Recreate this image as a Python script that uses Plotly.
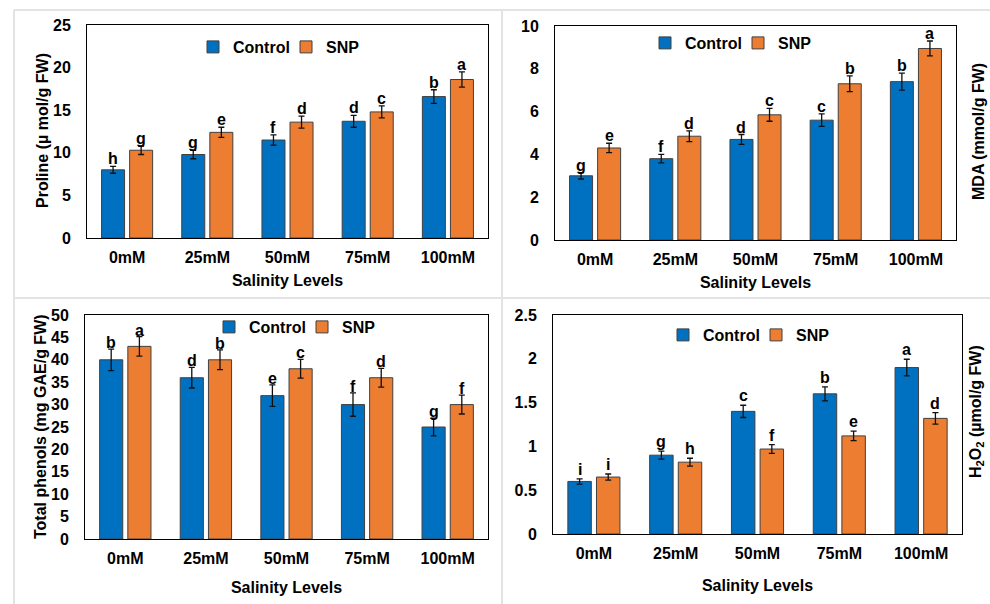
import plotly.graph_objects as go

# ---------------- data ----------------
categories = ["0mM", "25mM", "50mM", "75mM", "100mM"]
series_names = ["Control", "SNP"]

proline_control = [8.0, 9.8, 11.5, 13.7, 16.6]
proline_control_err = [0.4, 0.5, 0.6, 0.7, 0.8]
proline_snp = [10.3, 12.4, 13.6, 14.8, 18.6]
proline_snp_err = [0.5, 0.6, 0.7, 0.7, 0.9]
proline_control_letters = ["h", "g", "f", "d", "b"]
proline_snp_letters = ["g", "e", "d", "c", "a"]

mda_control = [3.0, 3.8, 4.7, 5.6, 7.4]
mda_control_err = [0.15, 0.2, 0.23, 0.29, 0.4]
mda_snp = [4.3, 4.85, 5.85, 7.3, 8.95]
mda_snp_err = [0.22, 0.25, 0.3, 0.37, 0.35]
mda_control_letters = ["g", "f", "d", "c", "b"]
mda_snp_letters = ["e", "d", "c", "b", "a"]

phenols_control = [40, 36, 32, 30, 25]
phenols_control_err = [2.4, 2.3, 2.4, 2.6, 2.0]
phenols_snp = [43, 40, 38, 36, 30]
phenols_snp_err = [2.2, 2.2, 2.1, 2.1, 2.1]
phenols_control_letters = ["b", "d", "e", "f", "g"]
phenols_snp_letters = ["a", "b", "c", "d", "f"]

h2o2_control = [0.60, 0.90, 1.40, 1.60, 1.90]
h2o2_control_err = [0.03, 0.045, 0.07, 0.08, 0.095]
h2o2_snp = [0.65, 0.82, 0.97, 1.12, 1.32]
h2o2_snp_err = [0.035, 0.045, 0.05, 0.055, 0.065]
h2o2_control_letters = ["i", "g", "c", "b", "a"]
h2o2_snp_letters = ["i", "h", "f", "e", "d"]

y_titles = [
    "Proline (µ mol/g FW)",
    "MDA (mmol/g FW)",
    "Total phenols (mg GAE/g FW)",
    "H<sub>2</sub>O<sub>2</sub> (µmol/g FW)",
]
x_title = "Salinity Levels"

# ---------------- style ----------------
W, H = 990, 604
BLUE = "#0070C0"
ORANGE = "#ED7D31"
FONT = "Liberation Sans, Arial, sans-serif"
BARGAP = 0.3
BARGROUPGAP = 0.18


def xd(a, b):
    return [a / W, b / W]


def yd(top, bottom):
    return [1 - bottom / H, 1 - top / H]


panels = [
    dict(ctrl=proline_control, ctrl_e=proline_control_err, snp=proline_snp, snp_e=proline_snp_err,
         ctrl_l=proline_control_letters, snp_l=proline_snp_letters,
         xdom=xd(87, 488), ydom=yd(25, 238), yrange=[0, 25], dtick=5,
         legend_xy=(193, 47), ytitle_px=(42, 131), xstand=9, lshift=-3),
    dict(ctrl=mda_control, ctrl_e=mda_control_err, snp=mda_snp, snp_e=mda_snp_err,
         ctrl_l=mda_control_letters, snp_l=mda_snp_letters,
         xdom=xd(555, 956), ydom=yd(26, 240), yrange=[0, 10], dtick=2,
         legend_xy=(645, 43), ytitle_px=(978, 132), xstand=9, lshift=-3),
    dict(ctrl=phenols_control, ctrl_e=phenols_control_err, snp=phenols_snp, snp_e=phenols_snp_err,
         ctrl_l=phenols_control_letters, snp_l=phenols_snp_letters,
         xdom=xd(85, 488), ydom=yd(315, 539), yrange=[0, 50], dtick=5,
         legend_xy=(209, 327), ytitle_px=(40, 427), xstand=15, lshift=-4),
    dict(ctrl=h2o2_control, ctrl_e=h2o2_control_err, snp=h2o2_snp, snp_e=h2o2_snp_err,
         ctrl_l=h2o2_control_letters, snp_l=h2o2_snp_letters,
         xdom=xd(553, 962), ydom=yd(315, 534), yrange=[0, 2.5], dtick=0.5,
         legend_xy=(663, 335), ytitle_px=(976, 412), xstand=18, lshift=-1),
]

fig = go.Figure()
annotations = []
layout_axes = {}
offset = (1 - BARGAP) / 4

for i, p in enumerate(panels):
    n = "" if i == 0 else str(i + 1)
    xa, ya = "x" + n, "y" + n
    leg = "legend" + n
    for name, vals, errs, color, letters, sgn in [
        ("Control", p["ctrl"], p["ctrl_e"], BLUE, p["ctrl_l"], -1),
        ("SNP", p["snp"], p["snp_e"], ORANGE, p["snp_l"], 1),
    ]:
        fig.add_trace(go.Bar(
            x=categories, y=vals, name=name, xaxis=xa, yaxis=ya, legend=leg,
            marker=dict(color=color, line=dict(color="#404040", width=1)),
            error_y=dict(type="data", array=errs, visible=True, color="#111111", thickness=1.3, width=3),
        ))
        for k, (v, e, lt) in enumerate(zip(vals, errs, letters)):
            annotations.append(dict(
                x=k + sgn * offset, y=v + e, xref=xa, yref=ya, text=lt, showarrow=False,
                yanchor="bottom", xanchor="center", yshift=p["lshift"],
                font=dict(family=FONT, size=16, color="black", weight="bold"),
            ))
    axis_font = dict(family=FONT, size=16, color="black", weight="bold")
    layout_axes["xaxis" + n] = dict(
        domain=p["xdom"], anchor=ya, showline=True, mirror=True, linecolor="black", linewidth=1,
        ticks="", tickfont=axis_font, ticklabelstandoff=5, showgrid=False,
        title=dict(text=x_title, font=axis_font, standoff=p["xstand"]), automargin=False,
    )
    layout_axes["yaxis" + n] = dict(
        domain=p["ydom"], anchor=xa, range=p["yrange"], dtick=p["dtick"], tick0=0,
        showline=True, mirror=True, linecolor="black", linewidth=1, showgrid=False, zeroline=False,
        ticks="", tickfont=axis_font, ticklabelstandoff=12, automargin=False,
    )
    tx, ty = p["ytitle_px"]
    annotations.append(dict(
        x=tx / W, y=1 - ty / H, xref="paper", yref="paper", text=y_titles[i], textangle=-90,
        showarrow=False, xanchor="center", yanchor="middle", font=axis_font,
    ))
    lx, ly = p["legend_xy"]
    layout_axes[leg] = dict(
        orientation="h", x=lx / W, y=1 - ly / H, xanchor="left", yanchor="middle",
        font=dict(family=FONT, size=16, color="black", weight="bold"), bgcolor="rgba(0,0,0,0)",
        borderwidth=0, traceorder="normal", entrywidth=48, entrywidthmode="pixels",
    )

# light grey panel separators
shapes = []
grey = dict(color="#e3e3e3", width=2)
for yy in (10, 298):
    shapes.append(dict(type="line", xref="paper", yref="paper", x0=14 / W, x1=1, y0=1 - yy / H, y1=1 - yy / H, line=grey))
for xx in (14, 502):
    shapes.append(dict(type="line", xref="paper", yref="paper", x0=xx / W, x1=xx / W, y0=0, y1=1 - 10 / H, line=grey))

fig.update_layout(
    width=W, height=H, autosize=False,
    margin=dict(l=0, r=0, t=0, b=0),
    paper_bgcolor="white", plot_bgcolor="white",
    barmode="group", bargap=BARGAP, bargroupgap=BARGROUPGAP,
    font=dict(family=FONT, color="black"),
    annotations=annotations, shapes=shapes,
    **layout_axes,
)

fig.write_html("out.html", config={"displayModeBar": False},
               post_script="document.body.style.margin='0px';")
